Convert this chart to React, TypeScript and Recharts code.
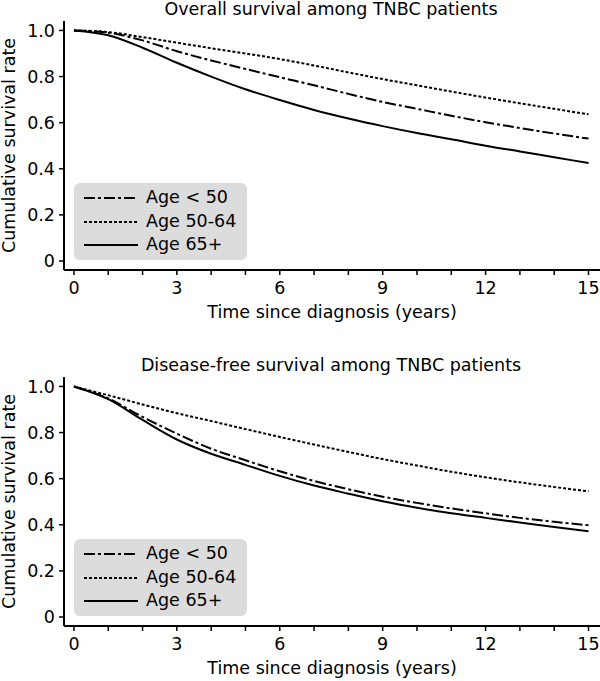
import { LineChart, Line, XAxis, YAxis, Legend } from 'recharts'

const FONT = '"DejaVu Sans", "Liberation Sans", Arial, sans-serif'
const FS = 17.5

// years since diagnosis
const YEARS = [0, 1, 2, 3, 4, 5, 6, 7, 8, 9, 10, 11, 12, 13, 14, 15]

// overall survival
const OS_UNDER_50 = [1, 0.99, 0.957, 0.91, 0.87, 0.833, 0.797, 0.762, 0.725, 0.69, 0.66, 0.63, 0.602, 0.577, 0.553, 0.531]
const OS_50_64 = [1, 0.993, 0.971, 0.947, 0.923, 0.9, 0.876, 0.848, 0.818, 0.789, 0.762, 0.735, 0.709, 0.684, 0.66, 0.636]
const OS_65_PLUS = [1, 0.979, 0.925, 0.86, 0.8, 0.745, 0.698, 0.655, 0.618, 0.585, 0.555, 0.528, 0.5, 0.475, 0.45, 0.425]

// disease-free survival
const DFS_UNDER_50 = [1, 0.948, 0.868, 0.795, 0.73, 0.68, 0.632, 0.59, 0.554, 0.522, 0.495, 0.471, 0.45, 0.43, 0.413, 0.398]
const DFS_50_64 = [1, 0.962, 0.922, 0.884, 0.85, 0.815, 0.781, 0.748, 0.716, 0.685, 0.657, 0.63, 0.606, 0.584, 0.564, 0.545]
const DFS_65_PLUS = [1, 0.945, 0.855, 0.77, 0.708, 0.66, 0.612, 0.57, 0.535, 0.502, 0.474, 0.45, 0.43, 0.41, 0.39, 0.372]

const X_TICKS = [0, 1, 2, 3, 4, 5, 6, 7, 8, 9, 10, 11, 12, 13, 14, 15]
const Y_TICKS = [0, 0.2, 0.4, 0.6, 0.8, 1.0]

const SERIES = [
  { key: 'under50', name: 'Age < 50', dash: '11 3 3 3' },
  { key: 'mid', name: 'Age 50-64', dash: '3 2' },
  { key: 'old', name: 'Age 65+', dash: undefined as string | undefined },
]

function buildRows(a: number[], b: number[], c: number[]) {
  return YEARS.map((t, i) => ({ t, under50: a[i], mid: b[i], old: c[i] }))
}

function LegendBox() {
  return (
    <div
      style={{
        position: 'relative',
        width: 173,
        height: 77,
        background: '#dcdcdc',
        borderRadius: 6,
        fontFamily: FONT,
        fontSize: FS,
        color: '#000',
      }}
    >
      {SERIES.map((s, i) => (
        <div
          key={s.key}
          style={{ position: 'absolute', left: 0, top: 15 + i * 23.5 - 11, height: 22, width: 173 }}
        >
          <svg width={56} height={22} style={{ position: 'absolute', left: 9, top: 0 }}>
            <line x1={1} x2={55} y1={11} y2={11} stroke="#000" strokeWidth={2} strokeDasharray={s.dash} />
          </svg>
          <span style={{ position: 'absolute', left: 72, top: 0, lineHeight: '21px', whiteSpace: 'nowrap' }}>
            {s.name}
          </span>
        </div>
      ))}
    </div>
  )
}

interface PanelProps {
  title: string
  rows: { t: number; under50: number; mid: number; old: number }[]
  top: number
}

function Panel({ title, rows, top }: PanelProps) {
  return (
    <div style={{ position: 'absolute', left: 0, top, width: 600, height: 325 }}>
      <LineChart width={600} height={325} data={rows} margin={{ top: 21, right: 0, bottom: 25, left: 0 }}>
        <XAxis
          dataKey="t"
          type="number"
          domain={[-0.29, 15.335]}
          allowDataOverflow
          ticks={X_TICKS}
          interval={0}
          tickFormatter={(v: number) => (v % 3 === 0 ? String(v) : '')}
          height={30}
          tickSize={5}
          tickMargin={7}
          axisLine={{ stroke: '#000', strokeWidth: 2 }}
          tickLine={{ stroke: '#000', strokeWidth: 1.5 }}
          tick={{ fill: '#000', fontSize: FS, fontFamily: FONT }}
        />
        <YAxis
          type="number"
          domain={[-0.039, 1.041]}
          allowDataOverflow
          ticks={Y_TICKS}
          interval={0}
          tickFormatter={(v: number) => (v === 0 ? '0' : v.toFixed(1))}
          width={64}
          tickSize={5}
          tickMargin={4}
          axisLine={{ stroke: '#000', strokeWidth: 2 }}
          tickLine={{ stroke: '#000', strokeWidth: 1.5 }}
          tick={{ fill: '#000', fontSize: FS, fontFamily: FONT }}
        />
        {SERIES.map((s) => (
          <Line
            key={s.key}
            dataKey={s.key}
            name={s.name}
            type="monotone"
            stroke="#000"
            strokeWidth={2}
            strokeDasharray={s.dash}
            dot={false}
            activeDot={false}
            isAnimationActive={false}
          />
        ))}
        <Legend
          layout="vertical"
          align="center"
          verticalAlign="middle"
          wrapperStyle={{ position: 'absolute', left: 74, top: 183, width: 173, height: 77 }}
          content={() => <LegendBox />}
        />
      </LineChart>
      <svg
        width={600}
        height={325}
        style={{ position: 'absolute', left: 0, top: 0, pointerEvents: 'none' }}
        fontFamily={FONT}
        fontSize={FS}
      >
        <text x={331} y={15} textAnchor="middle" fill="#000">{title}</text>
        <text x={332} y={318} textAnchor="middle" fill="#000">Time since diagnosis (years)</text>
        <text x={15} y={145.5} textAnchor="middle" fill="#000" transform="rotate(-90, 15, 145.5)">
          Cumulative survival rate
        </text>
      </svg>
    </div>
  )
}

export default function App() {
  return (
    <div style={{ position: 'absolute', left: 0, top: 0, width: 600, height: 681, background: '#fff', overflow: 'hidden' }}>
      <Panel title="Overall survival among TNBC patients" rows={buildRows(OS_UNDER_50, OS_50_64, OS_65_PLUS)} top={0} />
      <Panel title="Disease-free survival among TNBC patients" rows={buildRows(DFS_UNDER_50, DFS_50_64, DFS_65_PLUS)} top={356} />
    </div>
  )
}
